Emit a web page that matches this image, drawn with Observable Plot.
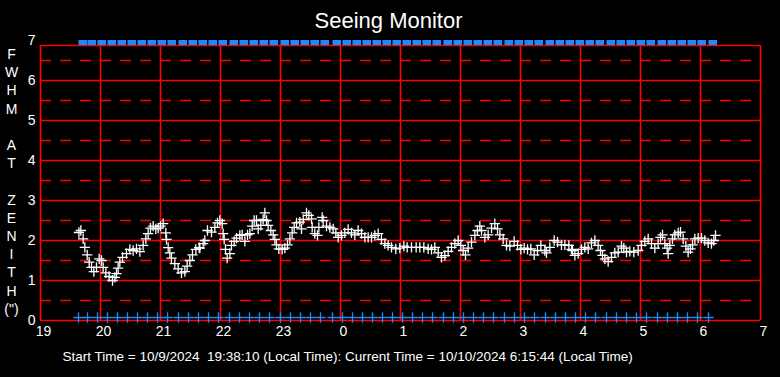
<!DOCTYPE html>
<html><head><meta charset="utf-8">
<script src="https://cdn.jsdelivr.net/npm/d3@7"></script>
<script src="https://cdn.jsdelivr.net/npm/@observablehq/plot@0.6"></script>
<style>html,body{margin:0;padding:0;background:#000;overflow:hidden}</style>
</head><body><div id="chart"></div><script>
// Seeing samples: local time in decimal hours (values above 24 = after midnight), FWHM at zenith (arcsec)
const hours = [
19.64,19.672,19.711,19.739,19.778,19.811,19.85,19.889,19.933,19.978,20.017,20.044,20.089,20.144,20.2,20.239,20.267,20.294,20.322,20.367,
20.433,20.489,20.544,20.6,20.656,20.711,20.756,20.794,20.833,20.878,20.922,20.961,21.0,21.044,21.089,21.1,21.128,21.156,21.183,21.239,
21.294,21.35,21.406,21.444,21.489,21.533,21.589,21.644,21.656,21.711,21.739,21.783,21.85,21.906,21.95,21.989,22.028,22.044,22.061,22.083,
22.111,22.156,22.183,22.228,22.267,22.322,22.361,22.406,22.45,22.489,22.528,22.561,22.6,22.628,22.672,22.711,22.739,22.767,22.794,22.839,
22.878,22.906,22.933,22.972,23.028,23.072,23.117,23.156,23.194,23.228,23.267,23.322,23.35,23.378,23.433,23.472,23.517,23.528,23.572,23.617,
23.639,23.694,23.711,23.767,23.822,23.878,23.922,23.961,24.017,24.072,24.128,24.183,24.239,24.294,24.35,24.406,24.461,24.517,24.572,24.628,
24.683,24.739,24.794,24.85,24.922,24.989,25.056,25.111,25.183,25.261,25.322,25.389,25.461,25.517,25.572,25.628,25.683,25.739,25.794,25.85,
25.906,25.961,26.006,26.044,26.083,26.128,26.183,26.239,26.283,26.322,26.35,26.406,26.461,26.517,26.572,26.617,26.656,26.711,26.767,26.822,
26.894,26.95,27.006,27.061,27.117,27.172,27.228,27.283,27.339,27.406,27.433,27.489,27.561,27.617,27.683,27.739,27.806,27.85,27.867,27.906,
27.961,28.017,28.072,28.128,28.183,28.239,28.294,28.333,28.367,28.406,28.461,28.517,28.572,28.628,28.683,28.722,28.767,28.822,28.889,28.961,
29.017,29.072,29.128,29.183,29.239,29.294,29.333,29.367,29.406,29.444,29.461,29.489,29.533,29.572,29.628,29.667,29.711,29.756,29.794,29.833,
29.867,29.906,29.961,30.017,30.072,30.128,30.183,30.222,30.25
];
const fwhm = [
2.20,2.25,2.04,1.83,1.64,1.46,1.33,1.22,1.33,1.54,1.50,1.33,1.19,1.10,1.00,1.08,1.17,1.31,1.46,1.58,
1.67,1.78,1.75,1.79,1.72,1.88,2.04,2.17,2.31,2.36,2.29,2.31,2.36,2.42,2.19,2.03,1.82,1.69,1.56,1.42,
1.29,1.19,1.22,1.36,1.50,1.64,1.78,1.82,1.81,1.92,2.00,2.25,2.21,2.33,2.44,2.50,2.42,2.17,2.03,1.78,
1.56,1.67,1.88,1.98,2.06,2.13,2.14,1.98,2.14,2.17,2.36,2.50,2.50,2.29,2.38,2.53,2.69,2.50,2.38,2.25,
2.14,2.03,1.89,1.79,1.78,1.81,1.89,2.04,2.19,2.33,2.44,2.46,2.29,2.53,2.69,2.63,2.54,2.33,2.17,2.13,
2.33,2.58,2.50,2.36,2.33,2.29,2.19,2.08,2.13,2.19,2.28,2.19,2.14,2.25,2.17,2.08,2.08,2.08,2.13,2.17,
2.03,1.92,1.88,1.83,1.79,1.81,1.86,1.83,1.83,1.83,1.83,1.83,1.79,1.78,1.83,1.69,1.58,1.62,1.73,1.83,
1.92,2.00,1.88,1.75,1.64,1.81,1.96,2.13,2.25,2.36,2.25,2.08,2.14,2.31,2.42,2.29,2.14,2.04,1.88,1.86,
1.98,1.88,1.78,1.81,1.78,1.79,1.64,1.75,1.88,1.75,1.69,1.83,2.00,1.96,1.89,1.89,1.88,1.78,1.75,1.63,
1.67,1.78,1.83,1.79,1.94,2.00,1.88,1.75,1.63,1.54,1.47,1.58,1.69,1.71,1.86,1.81,1.71,1.73,1.71,1.75,
1.88,1.98,2.04,1.92,1.81,1.92,2.08,2.14,1.92,1.81,1.67,1.88,2.04,2.14,2.19,2.21,2.04,1.86,1.71,1.79,
1.89,2.04,2.06,2.06,2.00,1.94,1.92,2.00,2.13
];
// Status markers (minutes after 19:00)
const statusMinutes = [38,47,57,67,77,87,97,107,117,127,138,148,158,168,178,189,199,209,219,229,240,250,260,270,280,292,302,312,322,332,342,352,362,372,382,392,403,413,423,433,443,453,464,474,484,494,505,515,525,535,545,555,566,576,586,596,606,617,627,637,647,657,668];
const xTicks = [19,20,21,22,23,24,25,26,27,28,29,30,31];
const yTicks = [0,1,2,3,4,5,6,7];
const yGrid = [1,2,3,4,5,6];
const yHalf = [0.5,1.5,2.5,3.5,4.5,5.5,6.5];
const yTitle = ["F","W","H","M","","A","T","","Z","E","N","I","T","H","(\")"];
const title = "Seeing Monitor";
const caption = "Start Time = 10/9/2024\u00a0\u00a019:38:10 (Local Time): Current Time = 10/10/2024 6:15:44 (Local Time)";

const frameTop = 6.875;
const RED = "#ff0000", BLUE = "#1a8cff";
const idx = hours.map((_, i) => i);

const chart = Plot.plot({
  width: 780, height: 377,
  marginLeft: 40, marginRight: 20, marginTop: 40, marginBottom: 57,
  style: {background: "#000", color: "#fff", fontFamily: "'Liberation Sans', Arial, sans-serif"},
  x: {domain: [19, 31]},
  y: {domain: [0, 7]},
  marks: [
    Plot.ruleY(yHalf, {stroke: RED, strokeWidth: 1.6, strokeDasharray: "11,9"}),
    Plot.ruleY(yGrid, {stroke: RED, strokeWidth: 1.6}),
    Plot.ruleY([0, frameTop], {stroke: RED, strokeWidth: 1.6}),
    Plot.ruleX(xTicks, {y1: 0, y2: frameTop, stroke: RED, strokeWidth: 1.6}),
    Plot.axisX(xTicks, {tickSize: 0, tickPadding: 6, dx: 3, tickFormat: d => d % 24, fontSize: 14, label: null}),
    Plot.axisY(yTicks, {tickSize: 0, tickPadding: 5, fontSize: 14, label: null}),
    Plot.rect(statusMinutes, {x1: d => 19 + (d + 0.5) / 60, x2: d => 19 + (d + 9) / 60, y1: frameTop, y2: 7, fill: BLUE}),
    Plot.dot(statusMinutes, {x: d => 19 + d / 60, y: 0.075, symbol: "plus", r: 3.4, stroke: BLUE, strokeWidth: 1.3}),
    Plot.dot(idx, {x: i => hours[i], y: i => fwhm[i], symbol: "plus", r: 3.4, stroke: "#fff", strokeWidth: 1.3}),
    Plot.text([yTitle.join("\n")], {text: d => d, frameAnchor: "left", dx: -29, textAnchor: "middle", lineHeight: 1.3, fontSize: 14, fill: "#fff"}),
    Plot.text([title], {text: d => d, frameAnchor: "top", lineAnchor: "middle", dx: -12, dy: -20, fontSize: 22, fill: "#fff"}),
    Plot.text([caption], {text: d => d, frameAnchor: "bottom-left", lineAnchor: "middle", dx: 22, dy: 36, textAnchor: "start", fontSize: 13.5, fill: "#fff"})
  ]
});
document.getElementById("chart").appendChild(chart);
</script></body></html>
